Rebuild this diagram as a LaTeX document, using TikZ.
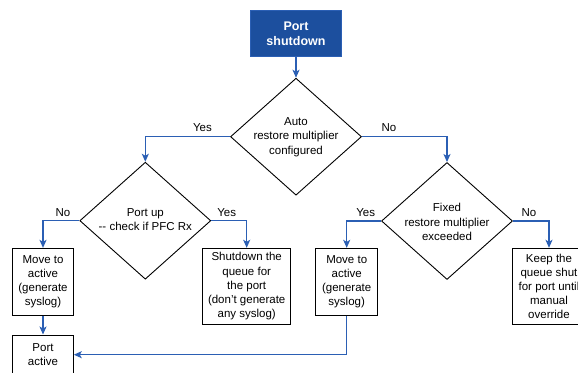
\documentclass[tikz,border=0pt]{standalone}
\usepackage{fontspec}
\setmainfont{Liberation Sans}
\usetikzlibrary{arrows.meta,shapes.geometric}
\definecolor{boxblue}{HTML}{1C4F9E}
\definecolor{lineblue}{HTML}{2B5FB4}
\begin{document}
\begin{tikzpicture}[x=1pt,y=-1pt,
  font=\fontsize{11.5}{14.2}\selectfont,
  dia/.style={draw=black,line width=0.9pt,diamond,inner sep=0pt,minimum width=131pt,minimum height=117pt},
  box/.style={draw=black,line width=1pt,inner sep=0pt,align=center},
  txt/.style={align=center,inner sep=0pt},
  conn/.style={draw=lineblue,line width=1.2pt,-{Stealth[length=8pt,width=7pt,inset=2pt]}},
  lab/.style={inner sep=0pt}]
\useasboundingbox (0,0) rectangle (578,372);
\fill[white] (0,0) rectangle (578,372);
% top box
\node[draw=lineblue,fill=boxblue,text=white,line width=0.8pt,align=center,inner sep=0pt,
  minimum width=90.6pt,minimum height=46.7pt,font=\fontsize{12.5}{15}\selectfont\bfseries] (ps) at (296,33.3) {Port\\shutdown};
% diamonds
\node[dia] (d1) at (296,136.7) {};
\node[txt] (t1) at (296,137.2) {Auto\\restore multiplier\\configured};
\node[dia] (d2) at (145.3,220.7) {};
\node[txt] (t2) at (145.3,219.7) {Port up\\-\kern0pt- check if PFC Rx};
\node[dia] (d3) at (447,221) {};
\node[txt] (t3) at (447,222) {Fixed\\restore multiplier\\exceeded};
% boxes
\node[box,minimum width=60.6pt,minimum height=66.7pt] (m1) at (43,281.7) {Move to\\active\\(generate\\syslog)};
\node[box,minimum width=60.6pt,minimum height=39.4pt] (pa) at (43,354.7) {Port\\active};
\node[box,minimum width=88pt,minimum height=76pt] (sd) at (246.7,286.3) {Shutdown the\\queue for\\the port\\(don’t generate\\any syslog)};
\node[box,minimum width=62pt,minimum height=66.7pt] (m2) at (346.7,281.7) {Move to\\active\\(generate\\syslog)};
\node[box,minimum width=72.6pt,minimum height=76pt] (kp) at (549,286.3) {Keep the\\queue shut\\for port until\\manual\\override};
% connectors
\draw[conn] (ps.south) -- (d1.north);
\draw[conn] (d1.west) -| (d2.north);
\draw[conn] (d1.east) -| (d3.north);
\draw[conn] (d2.west) -| (m1.north);
\draw[conn] (d2.east) -| (sd.north);
\draw[conn] (d3.west) -| (m2.north);
\draw[conn] (d3.east) -| (kp.north);
\draw[conn] (m1.south) -- (pa.north);
\draw[conn] (m2.south) |- (pa.east);
% labels
\node[lab] (l1) at (202.5,128) {Yes};
\node[lab] (l2) at (389,128) {No};
\node[lab] (l3) at (63,212.7) {No};
\node[lab] (l4) at (226.7,212.7) {Yes};
\node[lab] (l5) at (365.7,212.3) {Yes};
\node[lab] (l6) at (529,212.3) {No};
\end{tikzpicture}
\end{document}
